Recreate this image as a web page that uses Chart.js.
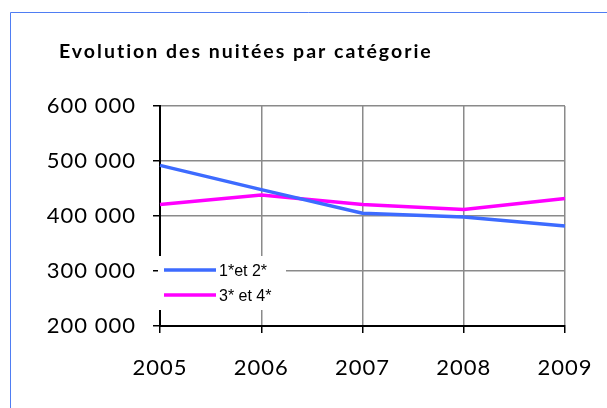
<!DOCTYPE html>
<html>
<head>
<meta charset="utf-8">
<script src="https://cdn.jsdelivr.net/npm/chart.js@4"></script>
<style>
  html, body { margin: 0; padding: 0; background: #fff; }
  #wrap { width: 607px; height: 408px; position: relative; }
</style>
</head>
<body>
<div id="wrap"><canvas id="Chart" width="607" height="408"></canvas></div>
<script>
// chart data
const years = ['2005', '2006', '2007', '2008', '2009'];
const seriesNames = ['1*et 2*', '3* et 4*'];
const cat12 = [492000, 448000, 405000, 398000, 382000];
const cat34 = [421000, 438000, 421000, 412000, 432000];
const yTicks = [200000, 300000, 400000, 500000, 600000];
const titleText = 'Evolution des nuitées par catégorie';

const fmt = v => String(v).replace(/\B(?=(\d{3})+(?!\d))/g, ' ');

// frame, title and the legend box sitting inside the plot
const decor = {
    id: 'decor',
    beforeDraw(chart) {
        chart.ctx.letterSpacing = '1px';
    },
    afterDraw(chart) {
        const ctx = chart.ctx;
        ctx.save();
        // blue frame, cut off on the right and bottom
        ctx.letterSpacing = '0px';
        ctx.strokeStyle = '#4f7df3';
        ctx.lineWidth = 1;
        ctx.beginPath();
        ctx.moveTo(10.5, 408);
        ctx.lineTo(10.5, 12.5);
        ctx.lineTo(607, 12.5);
        ctx.stroke();

        // title
        ctx.letterSpacing = '2px';
        ctx.fillStyle = '#000';
        ctx.font = 'bold 19.5px Lato';
        ctx.textBaseline = 'alphabetic';
        ctx.textAlign = 'left';
        ctx.fillText(titleText, 59, 58);

        // legend
        ctx.letterSpacing = '0px';
        ctx.fillStyle = '#fff';
        ctx.fillRect(158, 256, 128, 54);
        ctx.font = '16px "Liberation Sans"';
        ctx.textBaseline = 'alphabetic';
        chart.data.datasets.forEach((ds, i) => {
            const y = 270 + i * 25;
            ctx.strokeStyle = ds.borderColor;
            ctx.lineWidth = 3.5;
            ctx.beginPath();
            ctx.moveTo(164, y);
            ctx.lineTo(216, y);
            ctx.stroke();
            ctx.fillStyle = '#000';
            ctx.fillText(ds.label, 219, y + 6);
        });
        ctx.restore();
    }
};

new Chart(document.getElementById('Chart').getContext('2d'), {
    type: 'line',
    data: {
        labels: years,
        datasets: [
            { label: seriesNames[0], data: cat12, borderColor: '#3d6bff', borderWidth: 3.5, pointRadius: 0, tension: 0 },
            { label: seriesNames[1], data: cat34, borderColor: '#ff00ff', borderWidth: 3.5, pointRadius: 0, tension: 0 }
        ]
    },
    options: {
        responsive: false,
        animation: false,
        layout: { padding: { left: 0, top: 106, right: 42, bottom: 22 } },
        plugins: { legend: { display: false }, title: { display: false }, tooltip: { enabled: false } },
        scales: {
            x: {
                offset: false,
                grid: { color: '#8a8a8a', lineWidth: 1.5, tickColor: '#000', tickLength: 7 },
                border: { color: '#000', width: 2 },
                ticks: { color: '#000', font: { family: 'Lato', size: 22 }, padding: 22, maxRotation: 0 },
                afterFit(s) { s.height = 60; s.paddingLeft = 0; s.paddingRight = 0; }
            },
            y: {
                min: 200000,
                max: 600000,
                afterBuildTicks(s) { s.ticks = yTicks.map(v => ({ value: v })); },
                grid: { color: '#8a8a8a', lineWidth: 1.5, tickColor: '#000', tickLength: 7 },
                border: { color: '#000', width: 2 },
                ticks: { color: '#000', font: { family: 'Lato', size: 22 }, padding: 17, callback: v => fmt(v) },
                afterFit(s) { s.width = 160; s.paddingTop = 0; s.paddingBottom = 0; }
            }
        }
    },
    plugins: [decor]
});
</script>
</body>
</html>
